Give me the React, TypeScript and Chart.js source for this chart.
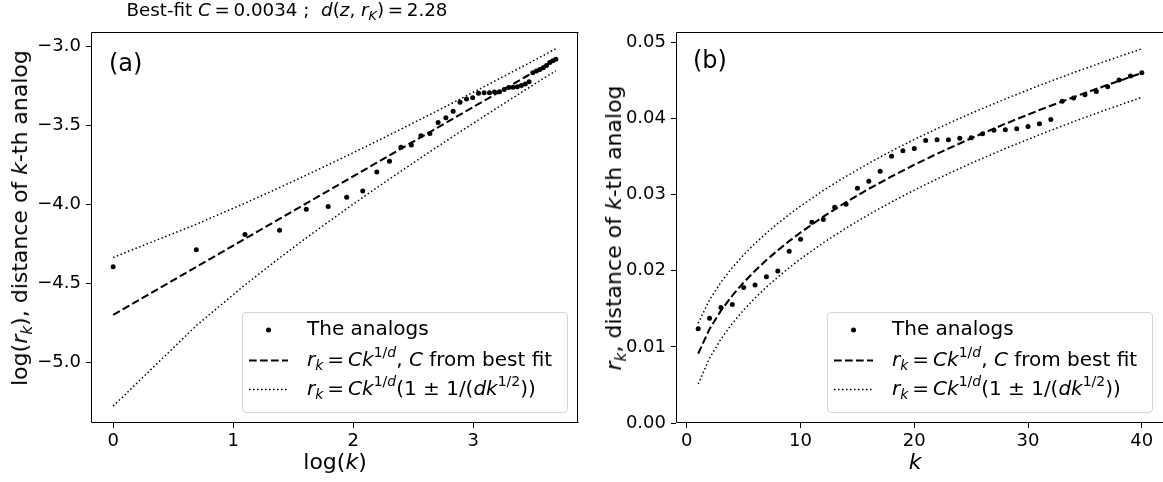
import React, { useEffect, useRef } from "react";
import { Chart, registerables } from "chart.js";

Chart.register(...registerables);

// ---------- data ----------
const kValues = [
  1, 2, 3, 4, 5, 6, 7, 8, 9, 10, 11, 12, 13, 14, 15, 16, 17, 18, 19, 20,
  21, 22, 23, 24, 25, 26, 27, 28, 29, 30, 31, 32, 33, 34, 35, 36, 37, 38, 39, 40,
];
const analogR = [
  0.01237, 0.01377, 0.01517, 0.01557, 0.0178, 0.01811, 0.0192, 0.01996, 0.02254, 0.02412,
  0.02636, 0.02671, 0.02833, 0.02873, 0.03083, 0.03175, 0.03307, 0.03504, 0.03575, 0.03605,
  0.0371, 0.0372, 0.0372, 0.0374, 0.03746, 0.03799, 0.03846, 0.03851, 0.03864, 0.03895,
  0.0393, 0.03987, 0.04224, 0.04268, 0.04312, 0.04355, 0.04417, 0.04504, 0.04557, 0.04601,
];
const fitK = [1, 2, 3, 4, 5, 6, 7, 8, 9, 10, 12, 14, 16, 18, 20, 22, 25, 28, 31, 34, 37, 40];
const fitR = [
  0.009115, 0.01235, 0.014756, 0.01674, 0.018461, 0.019999, 0.021398, 0.022687, 0.02389, 0.02502,
  0.027104, 0.029, 0.03075, 0.032378, 0.033909, 0.035356, 0.037396, 0.039302, 0.041099, 0.042797,
  0.044411, 0.04596,
];
const upperR = [
  0.013113, 0.01618, 0.018492, 0.020411, 0.022081, 0.023581, 0.024946, 0.026206, 0.027383, 0.02849,
  0.030535, 0.032399, 0.034123, 0.035726, 0.037235, 0.038662, 0.040676, 0.04256, 0.044338, 0.046015,
  0.047613, 0.049145,
];
const lowerR = [
  0.005117, 0.00852, 0.01102, 0.013069, 0.014841, 0.016417, 0.01785, 0.019168, 0.020397, 0.02155,
  0.023673, 0.025601, 0.027377, 0.02903, 0.030582, 0.03205, 0.034116, 0.036044, 0.03786, 0.039579,
  0.041209, 0.042775,
];
const xTicksA = [0, 1, 2, 3];
const yTicksA = [-5.0, -4.5, -4.0, -3.5, -3.0];
const xTicksB = [0, 10, 20, 30, 40];
const yTicksB = [0.0, 0.01, 0.02, 0.03, 0.04, 0.05];

const FONT = "'DejaVu Sans', 'Liberation Sans', sans-serif";

const spinePlugin = {
  id: "spines",
  afterDraw(chart: any, _args: any, opts: any) {
    const { ctx, chartArea } = chart;
    const l = Math.round(chartArea.left) + 0.5;
    const t = Math.round(chartArea.top) + 0.5;
    const r = Math.round(chartArea.right) - 0.5;
    const b = Math.round(chartArea.bottom) - 0.5;
    ctx.save();
    ctx.strokeStyle = "#000";
    ctx.lineWidth = 1;
    ctx.beginPath();
    ctx.moveTo(r + 1, t);
    ctx.lineTo(l, t);
    ctx.lineTo(l, b);
    ctx.lineTo(r + 1, b);
    if (!opts || !opts.noRight) {
      ctx.moveTo(r, t);
      ctx.lineTo(r, b);
    }
    ctx.stroke();
    ctx.restore();
  },
};

function toPoints(xs: number[], ys: number[], logScale: boolean) {
  return xs.map((x, i) =>
    logScale ? { x: Math.log(x), y: Math.log(ys[i]) } : { x, y: ys[i] }
  );
}

function buildChart(canvas: HTMLCanvasElement, o: any) {
  const lineDs = (data: any, width: number, dash: number[]) => ({
    data,
    showLine: true,
    borderColor: "#000",
    backgroundColor: "#000",
    borderWidth: width,
    borderDash: dash,
    pointRadius: 0,
    pointHoverRadius: 0,
    fill: false,
    tension: 0,
  });
  const axisCommon = (ticks: number[], fmt: (v: number) => string, padding: number) => ({
    type: "linear" as const,
    afterBuildTicks: (s: any) => {
      s.ticks = ticks.map((v) => ({ value: v }));
    },
    ticks: {
      callback: (v: any) => fmt(Number(v)),
      font: { family: FONT, size: 18 },
      color: "#000",
      padding,
      autoSkip: false,
      maxRotation: 0,
      minRotation: 0,
    },
    grid: {
      display: true,
      drawOnChartArea: false,
      drawTicks: true,
      tickLength: 5,
      tickWidth: 1,
      tickColor: "#000",
      color: "#000",
    },
    border: { display: false },
  });
  return new Chart(canvas, {
    type: "scatter",
    data: {
      datasets: [
        {
          data: o.points,
          showLine: false,
          pointRadius: 2.5,
          pointHoverRadius: 2.5,
          pointBorderWidth: 0,
          pointBackgroundColor: "#000",
          backgroundColor: "#000",
          borderColor: "#000",
        },
        lineDs(o.fit, 2.08, [7.7, 3.3]),
        lineDs(o.upper, 1.5, [1.5, 2.5]),
        lineDs(o.lower, 1.5, [1.5, 2.5]),
      ],
    },
    options: {
      animation: false,
      responsive: false,
      devicePixelRatio: 1,
      events: [],
      layout: { padding: { top: 32, right: o.padRight, bottom: 0, left: 0 } },
      plugins: {
        legend: { display: false },
        tooltip: { enabled: false },
        title: { display: false },
        spines: { noRight: o.noRight },
      },
      scales: {
        x: {
          ...axisCommon(o.xTicks, o.xFmt, 3),
          min: o.xMin,
          max: o.xMax,
          afterFit: (s: any) => {
            s.height = 59;
          },
        },
        y: {
          ...axisCommon(o.yTicks, o.yFmt, 5),
          min: o.yMin,
          max: o.yMax,
          afterFit: (s: any) => {
            s.width = o.yWidth;
          },
        },
      },
    },
    plugins: [spinePlugin],
  } as any);
}

// ---------- text helpers ----------
const Sub = ({ children }: any) => (
  <span style={{ fontSize: "70%", position: "relative", top: "0.32em" }}>{children}</span>
);
const Sup = ({ children }: any) => (
  <span style={{ fontSize: "70%", position: "relative", top: "-0.62em" }}>{children}</span>
);
const I = ({ children }: any) => <span style={{ fontStyle: "italic" }}>{children}</span>;

function Txt({ x, y, size, center, children }: any) {
  return (
    <div
      style={{
        position: "absolute",
        left: x,
        top: y - 0.846 * size,
        fontSize: size,
        lineHeight: 1,
        fontFamily: FONT,
        whiteSpace: "nowrap",
        color: "#000",
        transform: center ? "translateX(-50%)" : undefined,
      }}
    >
      {children}
    </div>
  );
}

function VTxt({ cx, cy, size, children }: any) {
  return (
    <div
      style={{
        position: "absolute",
        left: cx,
        top: cy,
        fontSize: size,
        lineHeight: 1,
        fontFamily: FONT,
        whiteSpace: "nowrap",
        color: "#000",
        transform: "translate(-50%, -50%) rotate(-90deg)",
      }}
    >
      {children}
    </div>
  );
}

const EQ = "\u2009=\u2009";

function Legend({ left, top }: any) {
  const rows = [23, 53.5, 82.5];
  const hx1 = 7;
  const hx2 = 46;
  return (
    <div
      style={{
        position: "absolute",
        left,
        top,
        width: 326,
        height: 101,
        border: "1px solid #d6d6d6",
        borderRadius: 4,
        background: "rgba(255,255,255,0.85)",
        boxSizing: "border-box",
      }}
    >
      <svg width={326} height={101} style={{ position: "absolute", left: -1, top: -1 }}>
        <circle cx={(hx1 + hx2) / 2} cy={rows[0] - 5} r={2.5} fill="#000" />
        <line
          x1={hx1}
          x2={hx2}
          y1={rows[1] - 5}
          y2={rows[1] - 5}
          stroke="#000"
          strokeWidth={2.08}
          strokeDasharray="7.7 3.3"
        />
        <line
          x1={hx1}
          x2={hx2}
          y1={rows[2] - 5}
          y2={rows[2] - 5}
          stroke="#000"
          strokeWidth={1.5}
          strokeDasharray="1.5 2.5"
        />
      </svg>
      <Txt x={64} y={rows[0] - 1} size={20}>
        The analogs
      </Txt>
      <Txt x={64} y={rows[1] - 1} size={20}>
        <I>r</I>
        <Sub>
          <I>k</I>
        </Sub>
        {EQ}
        <I>Ck</I>
        <Sup>
          1/<I>d</I>
        </Sup>
        , <I>C</I> from best fit
      </Txt>
      <Txt x={64} y={rows[2] - 1} size={20}>
        <I>r</I>
        <Sub>
          <I>k</I>
        </Sub>
        {EQ}
        <I>Ck</I>
        <Sup>
          1/<I>d</I>
        </Sup>
        (1 ± 1/(<I>dk</I>
        <Sup>1/2</Sup>))
      </Txt>
    </div>
  );
}

export default function App() {
  const refA = useRef<HTMLCanvasElement>(null);
  const refB = useRef<HTMLCanvasElement>(null);

  useEffect(() => {
    const chartA = buildChart(refA.current!, {
      points: toPoints(kValues, analogR, true),
      fit: toPoints(fitK, fitR, true),
      upper: toPoints(fitK, upperR, true),
      lower: toPoints(fitK, lowerR, true),
      xMin: -0.1844,
      xMax: 3.8733,
      yMin: -5.382,
      yMax: -2.907,
      xTicks: xTicksA,
      yTicks: yTicksA,
      xFmt: (v: number) => String(v),
      yFmt: (v: number) => v.toFixed(1).replace("-", "\u2212"),
      yWidth: 91,
      padRight: 12,
      noRight: false,
    });
    const chartB = buildChart(refB.current!, {
      points: toPoints(kValues, analogR, false),
      fit: toPoints(fitK, fitR, false),
      upper: toPoints(fitK, upperR, false),
      lower: toPoints(fitK, lowerR, false),
      xMin: -0.95,
      xMax: 42.126,
      yMin: 0,
      yMax: 0.05135,
      xTicks: xTicksB,
      yTicks: yTicksB,
      xFmt: (v: number) => String(v),
      yFmt: (v: number) => v.toFixed(2),
      yWidth: 86,
      padRight: 4,
      noRight: true,
    });
    return () => {
      chartA.destroy();
      chartB.destroy();
    };
  }, []);

  return (
    <div
      style={{
        position: "absolute",
        left: 0,
        top: 0,
        width: 1163,
        height: 482,
        overflow: "hidden",
        background: "#fff",
      }}
    >
      <canvas
        ref={refA}
        width={590}
        height={482}
        style={{ position: "absolute", left: 0, top: 0, width: 590, height: 482 }}
      />
      <canvas
        ref={refB}
        width={580}
        height={482}
        style={{ position: "absolute", left: 590, top: 0, width: 580, height: 482 }}
      />

      {/* title */}
      <Txt x={287} y={16.7} size={18.3} center>
        Best-fit <I>C</I>
        {EQ}0.0034 ;&nbsp;&nbsp;<I>d</I>(<I>z</I>, <I>r</I>
        <Sub>
          <I>K</I>
        </Sub>
        ){EQ}2.28
      </Txt>

      {/* panel labels */}
      <Txt x={109} y={71} size={24}>
        (a)
      </Txt>
      <Txt x={693} y={68} size={24}>
        (b)
      </Txt>

      {/* axis titles */}
      <Txt x={335} y={470} size={22} center>
        log(<I>k</I>)
      </Txt>
      <Txt x={915} y={470} size={22} center>
        <I>k</I>
      </Txt>
      <VTxt cx={20} cy={218} size={22}>
        log(<I>r</I>
        <Sub>
          <I>k</I>
        </Sub>
        ), distance of <I>k</I>-th analog
      </VTxt>
      <VTxt cx={614} cy={228} size={22}>
        <I>r</I>
        <Sub>
          <I>k</I>
        </Sub>
        , distance of <I>k</I>-th analog
      </VTxt>

      <Legend left={242} top={312} />
      <Legend left={827} top={312} />
    </div>
  );
}
